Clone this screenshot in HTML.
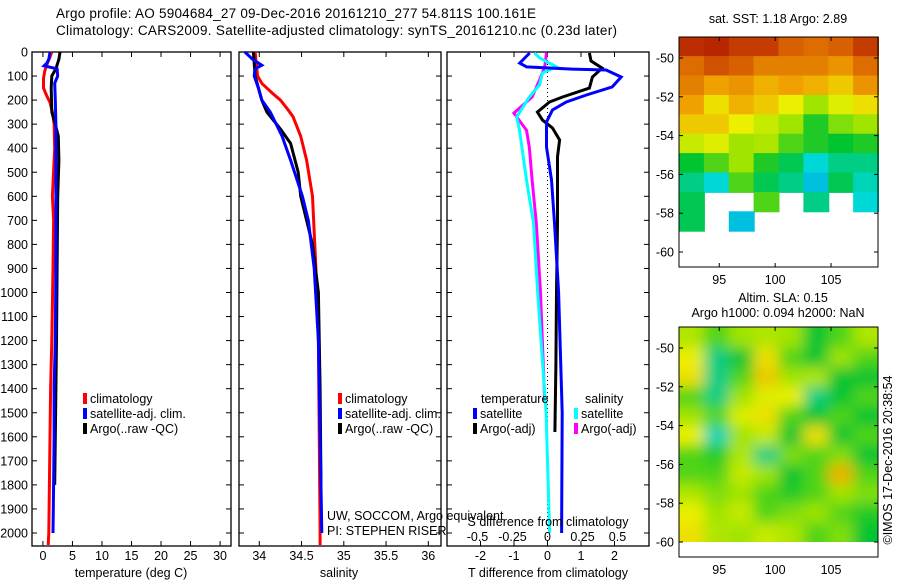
<!DOCTYPE html>
<html><head><meta charset="utf-8">
<style>
html,body{margin:0;padding:0;background:#fff;}
svg{display:block;font-family:"Liberation Sans",sans-serif;}
text{fill:#000;}
</style></head>
<body>
<svg id="fig" width="900" height="580" viewBox="0 0 900 580" xmlns="http://www.w3.org/2000/svg">
<defs>
<filter id="blur" x="-0.1" y="-0.1" width="1.2" height="1.2"><feGaussianBlur stdDeviation="7"/></filter>
<clipPath id="clipSla"><rect x="679" y="327" width="199" height="215"/></clipPath>
</defs>
<text x="56" y="18" font-size="13.5" textLength="480">Argo profile: AO 5904684_27 09-Dec-2016 20161210_277 54.811S 100.161E</text>
<text x="56" y="35" font-size="13.5" textLength="561">Climatology: CARS2009. Satellite-adjusted climatology: synTS_20161210.nc (0.23d later)</text>
</svg>
<script>
// ---------- DATA ----------
const depthTicks = [0,100,200,300,400,500,600,700,800,900,1000,1100,1200,1300,1400,1500,1600,1700,1800,1900,2000];
const tempTicks = [0,5,10,15,20,25,30];
const salTicks = [34,34.5,35,35.5,36];
const salTickLabels = ['34','34.5','35','35.5','36'];
const tdiffTicks = [-2,-1,0,1,2];
const sdiffTicks = [-0.5,-0.25,0,0.25,0.5];
const sdiffTickLabels = ['-0.5','-0.25','0','0.25','0.5'];

const tClimDepth = [0,20,50,80,110,150,180,210,250,300,400,600,700,900,1200,1400,1600,1800,2000,2050];
const tClimVal   = [1.5,1.2,0.7,0.3,0.1,0.1,0.6,1.2,1.6,1.9,2.0,1.6,1.8,1.7,1.5,1.3,1.2,1.1,1.0,0.9];
const tSatDepth  = [0,30,45,58,70,100,130,200,300,400,600,900,1200,1400,1600,1800,2000];
const tSatVal    = [1.2,1.0,0.7,0.2,2.4,2.5,2.0,2.1,2.2,2.2,2.2,2.2,2.1,1.9,1.9,1.8,1.7];
const tArgoDepth = [0,30,70,100,150,250,290,330,350,450,600,900,1200,1400,1600,1800];
const tArgoVal   = [2.9,2.7,2.2,1.5,1.4,1.5,2.0,2.4,2.6,2.7,2.5,2.4,2.3,2.2,2.1,2.0];

const sClimDepth = [0,100,130,170,200,240,270,350,450,600,900,1200,2000,2050];
const sClimVal   = [33.95,33.98,34.03,34.15,34.25,34.34,34.40,34.49,34.56,34.63,34.67,34.70,34.72,34.72];
const sSatDepth  = [0,30,55,70,100,150,200,250,300,350,450,600,700,900,1200,2000];
const sSatVal    = [33.83,33.92,34.03,33.95,33.94,33.99,34.03,34.13,34.20,34.27,34.37,34.51,34.58,34.65,34.70,34.74];
const sArgoDepth = [0,100,200,250,320,380,500,600,800,1000,1400,1800];
const sArgoVal   = [33.93,33.95,34.03,34.09,34.25,34.37,34.46,34.49,34.63,34.70,34.72,34.73];

const dtSatDepth  = [4,46,62,71,75,104,145,179,208,241,291,395,532,711,1000,1500,2000];
const dtSatVal    = [-0.53,-0.83,-0.62,0.74,1.75,2.2,1.93,1.16,0.56,0.15,-0.03,-0.03,0.12,0.21,0.33,0.44,0.42];
const dtArgoDepth = [4,37,67,104,150,187,208,250,283,316,366,436,711,1000,1300,1580];
const dtArgoVal   = [1.25,1.3,1.63,1.34,1.25,0.45,0.06,-0.3,-0.15,0.15,0.36,0.3,0.3,0.27,0.25,0.22];
const dsSatDepth  = [4,24,62,87,137,187,270,325,532,711,1000,1500,2000];
const dsSatVal    = [-0.093,-0.057,0.064,-0.036,-0.057,-0.13,-0.22,-0.20,-0.15,-0.10,-0.07,-0.01,0.015];
const dsArgoDepth = [4,62,117,187,254,325,395,532,711,1000,1455];
const dsArgoVal   = [-0.007,-0.02,-0.057,-0.11,-0.24,-0.15,-0.13,-0.11,-0.08,-0.05,-0.02];

const mapLonTicks = [95,100,105];
const mapLatTicks = [-50,-52,-54,-56,-58,-60];
const N = null;
const sstGrid = [
 [0.97,0.98,0.95,0.95,0.90,0.88,0.90,0.95],
 [0.88,0.92,0.90,0.85,0.85,0.85,0.82,0.88],
 [0.85,0.80,0.82,0.78,0.80,0.78,0.75,0.82],
 [0.80,0.72,0.78,0.75,0.70,0.60,0.68,0.72],
 [0.75,0.75,0.70,0.65,0.60,0.52,0.58,0.60],
 [0.65,0.68,0.60,0.62,0.55,0.52,0.50,0.52],
 [0.50,0.55,0.60,0.52,0.48,0.40,0.45,0.45],
 [0.45,0.40,0.55,0.48,0.45,0.38,0.48,0.42],
 [0.48,N,N,0.55,N,0.45,N,0.40],
 [0.48,N,0.38,N,N,N,N,N],
 [N,N,N,N,N,N,N,N],
 [N,N,N,N,N,N,N,N]
];
const slaGrid = [
 [0.62,0.55,0.60,0.62,0.60,0.50,0.55,0.62],
 [0.70,0.45,0.50,0.72,0.55,0.50,0.60,0.55],
 [0.72,0.45,0.55,0.75,0.60,0.62,0.50,0.50],
 [0.55,0.45,0.60,0.68,0.70,0.45,0.50,0.55],
 [0.60,0.55,0.68,0.72,0.55,0.50,0.55,0.50],
 [0.70,0.42,0.60,0.65,0.50,0.72,0.50,0.55],
 [0.55,0.52,0.62,0.45,0.58,0.55,0.58,0.50],
 [0.55,0.55,0.65,0.60,0.50,0.55,0.78,0.55],
 [0.62,0.58,0.60,0.55,0.52,0.55,0.60,0.58],
 [0.70,0.60,0.65,0.55,0.58,0.60,0.55,0.52],
 [0.72,0.62,0.60,0.65,0.62,0.55,0.58,0.50]
];

// ---------- RENDER ----------
const svg = document.getElementById('fig');
const NS = 'http://www.w3.org/2000/svg';
function el(tag, attrs, parent){
  const e = document.createElementNS(NS, tag);
  for (const k in attrs) e.setAttribute(k, attrs[k]);
  (parent||svg).appendChild(e);
  return e;
}
function txt(x,y,s,size,anchor,parent){
  const t = el('text',{x:x,y:y,'font-size':size,'text-anchor':anchor||'start'},parent);
  t.textContent = s;
  return t;
}
const TOP=52, BOT=546, PXD=0.2405;
function yD(d){ return TOP + d*PXD; }

const panels = [
 {name:'temperature', x0:32, x1:231, lo:-1.85, hi:31.85},
 {name:'salinity', x0:239, x1:441, lo:33.76, hi:36.15},
 {name:'difference', x0:447, x1:649, lo:-3.0, hi:3.03}
];
function xf(p){ return v => p.x0 + (v-p.lo)/(p.hi-p.lo)*(p.x1-p.x0); }
const xT = xf(panels[0]), xS = xf(panels[1]), xDT = xf(panels[2]);
const xDS = v => xDT(0) + v*140;

panels.forEach((p,i)=>{
  const g = el('g',{});
  
  
  const fr = el('rect',{x:p.x0,y:TOP,width:p.x1-p.x0,height:BOT-TOP,fill:'none',stroke:'#000','stroke-width':1.3},g);
  
  
  depthTicks.forEach(d=>{
    el('line',{x1:p.x0,x2:p.x0+5,y1:yD(d),y2:yD(d),stroke:'#000'},g);
    el('line',{x1:p.x1,x2:p.x1-5,y1:yD(d),y2:yD(d),stroke:'#000'},g);
  });
});
const yl = el('g',{});


depthTicks.forEach(d=>{ txt(28, yD(d)+4.5, String(d), 12.5, 'end', yl); });

function xTicks(p, f, ticks, labels, parent, top){
  ticks.forEach((v,i)=>{
    const x=f(v);
    el('line',{x1:x,x2:x,y1:BOT,y2:BOT-5,stroke:'#000'},parent);
    if(top) el('line',{x1:x,x2:x,y1:TOP,y2:TOP+5,stroke:'#000'},parent);
    txt(x, 560, labels[i], 12.5, 'middle', parent);
  });
}
const ax1 = el('g',{});


xTicks(panels[0], xT, tempTicks, tempTicks.map(String), ax1, true);
txt(131, 577, 'temperature (deg C)', 12.5, 'middle', ax1);
const ax2 = el('g',{});


xTicks(panels[1], xS, salTicks, salTickLabels, ax2, true);
txt(339, 577, 'salinity', 12.5, 'middle', ax2);
const ax3 = el('g',{});


xTicks(panels[2], xDT, tdiffTicks, tdiffTicks.map(String), ax3, true);
txt(548, 577, 'T difference from climatology', 12.5, 'middle', ax3);

const zl = el('line',{x1:xDT(0),x2:xDT(0),y1:TOP,y2:BOT,stroke:'#000','stroke-dasharray':'1,3'});



function series(depths, vals, f, color, name){
  const pts = depths.map((d,i)=> f(vals[i]).toFixed(1)+','+yD(d).toFixed(1)).join(' ');
  const pl = el('polyline',{points:pts,fill:'none',stroke:color,'stroke-width':3,'stroke-linejoin':'miter'});
  
  
}
series(tClimDepth,tClimVal,xT,'#ff0000','temperature-climatology-line');
series(tArgoDepth,tArgoVal,xT,'#000000','temperature-argo-line');
series(tSatDepth,tSatVal,xT,'#0000ff','temperature-satellite-line');
series(sClimDepth,sClimVal,xS,'#ff0000','salinity-climatology-line');
series(sArgoDepth,sArgoVal,xS,'#000000','salinity-argo-line');
series(sSatDepth,sSatVal,xS,'#0000ff','salinity-satellite-line');
series(dsArgoDepth,dsArgoVal,xDS,'#ff00ff','sdiff-argo-line');
series(dsSatDepth,dsSatVal,xDS,'#00ffff','sdiff-satellite-line');
series(dtArgoDepth,dtArgoVal,xDT,'#000000','tdiff-argo-line');
series(dtSatDepth,dtSatVal,xDT,'#0000ff','tdiff-satellite-line');

function legendEntry(x,y,color,label,name){
  const g = el('g',{});
  
  
  el('rect',{x:x,y:y-10,width:4,height:11,fill:color},g);
  txt(x+7,y,label,12.5,'start',g);
}
legendEntry(83,403,'#ff0000','climatology','legend-entry-temp-climatology');
legendEntry(83,418,'#0000ff','satellite-adj. clim.','legend-entry-temp-satellite');
legendEntry(83,433,'#000000','Argo(..raw -QC)','legend-entry-temp-argo');
legendEntry(338,403,'#ff0000','climatology','legend-entry-sal-climatology');
legendEntry(338,418,'#0000ff','satellite-adj. clim.','legend-entry-sal-satellite');
legendEntry(338,433,'#000000','Argo(..raw -QC)','legend-entry-sal-argo');
const lt = txt(481,403,'temperature',12.5,'start');  
const ls = txt(585,403,'salinity',12.5,'start');  
legendEntry(473,418,'#0000ff','satellite','legend-entry-tdiff-satellite');
legendEntry(473,433,'#000000','Argo(-adj)','legend-entry-tdiff-argo');
legendEntry(574,418,'#00ffff','satellite','legend-entry-sdiff-satellite');
legendEntry(574,433,'#ff00ff','Argo(-adj)','legend-entry-sdiff-argo');

const an = el('g',{});


txt(327,520,'UW, SOCCOM, Argo equivalent',12.5,'start',an);
txt(327,535,'PI: STEPHEN RISER',12.5,'start',an);
const sd = el('g',{});


txt(548,526,'S difference from climatology',12.5,'middle',sd);
sdiffTicks.forEach((v,i)=>{ txt(xDS(v),541,sdiffTickLabels[i],12.5,'middle',sd); });

// ---------- MAPS ----------
function cmap(v){
  const st=[[0.3,[0,96,255]],[0.4,[0,216,216]],[0.5,[0,196,48]],[0.6,[160,228,0]],[0.7,[236,240,0]],[0.8,[240,160,0]],[0.9,[216,96,0]],[1.0,[176,24,0]]];
  if(v<=st[0][0]) return 'rgb('+st[0][1]+')';
  for(let i=1;i<st.length;i++){
    if(v<=st[i][0]){
      const t=(v-st[i-1][0])/(st[i][0]-st[i-1][0]);
      const c=st[i-1][1].map((a,k)=>Math.round(a+(st[i][1][k]-a)*t));
      return 'rgb('+c+')';
    }
  }
  return 'rgb('+st[st.length-1][1]+')';
}
function drawMap(M, grid, name, lat0, blur){
  const lonLo=91.4, lonHi=109.2;
  const lx = v => M.x0 + (v-lonLo)/(lonHi-lonLo)*(M.x1-M.x0);
  const ly = v => M.yLat50 + (-50 - v)*19.4;
  const g = el('g',{});
  
  
  const cells = el('g', blur?{filter:'url(#blur)'}:{}, el('g', blur?{'clip-path':'url(#clipSla)'}:{}, g));
  const cw=(M.x1-M.x0)/grid[0].length;
  const pad = blur?20:0;
  grid.forEach((row,r)=>{
    row.forEach((v,c)=>{
      if(v===null) return;
      const x = M.x0+c*cw-(c==0?pad:0);
      const y = ly(lat0-r)-(r==0?pad:0);
      const w = cw+1+(c==0?pad:0)+(c==row.length-1?pad:0);
      const h = 19.4+1+(r==0?pad:0)+(r==grid.length-1?pad:0);
      const rc = el('rect',{x:x.toFixed(1),y:y.toFixed(1),width:w.toFixed(1),height:h.toFixed(1),fill:cmap(v)},cells);
      
      
    });
  });
  el('rect',{x:M.x0,y:M.y0,width:M.x1-M.x0,height:M.y1-M.y0,fill:'none',stroke:'#000'},g);
  mapLonTicks.forEach(v=>{
    el('line',{x1:lx(v),x2:lx(v),y1:M.y1,y2:M.y1-4,stroke:'#000'},g);
    el('line',{x1:lx(v),x2:lx(v),y1:M.y0,y2:M.y0+4,stroke:'#000'},g);
    txt(lx(v),M.y1+17,String(v),12.5,'middle',g);
  });
  mapLatTicks.forEach(v=>{
    el('line',{x1:M.x0,x2:M.x0+4,y1:ly(v),y2:ly(v),stroke:'#000'},g);
    el('line',{x1:M.x1,x2:M.x1-4,y1:ly(v),y2:ly(v),stroke:'#000'},g);
    txt(M.x0-5,ly(v)+4.5,String(v),12.5,'end',g);
  });
}
drawMap({x0:679,x1:878,y0:37,y1:267,yLat50:58}, sstGrid, 'sst-map', -48.9, false);
drawMap({x0:679,x1:878,y0:327,y1:557,yLat50:348}, slaGrid, 'sla-map', -49.0, true);
const wb = el('rect',{x:680,y:542.5,width:197,height:14,fill:'#fff'});



const t1 = txt(778,23,'sat. SST: 1.18 Argo: 2.89',12.5,'middle');


const t2 = txt(783,302,'Altim. SLA: 0.15',12.5,'middle');


const t3 = txt(778,317,'Argo h1000: 0.094 h2000: NaN',12.5,'middle');


const cp = txt(0,0,'©IMOS 17-Dec-2016 20:38:54',12.5,'middle');
cp.setAttribute('transform','translate(892,460) rotate(-90)');


</script>
</body></html>
